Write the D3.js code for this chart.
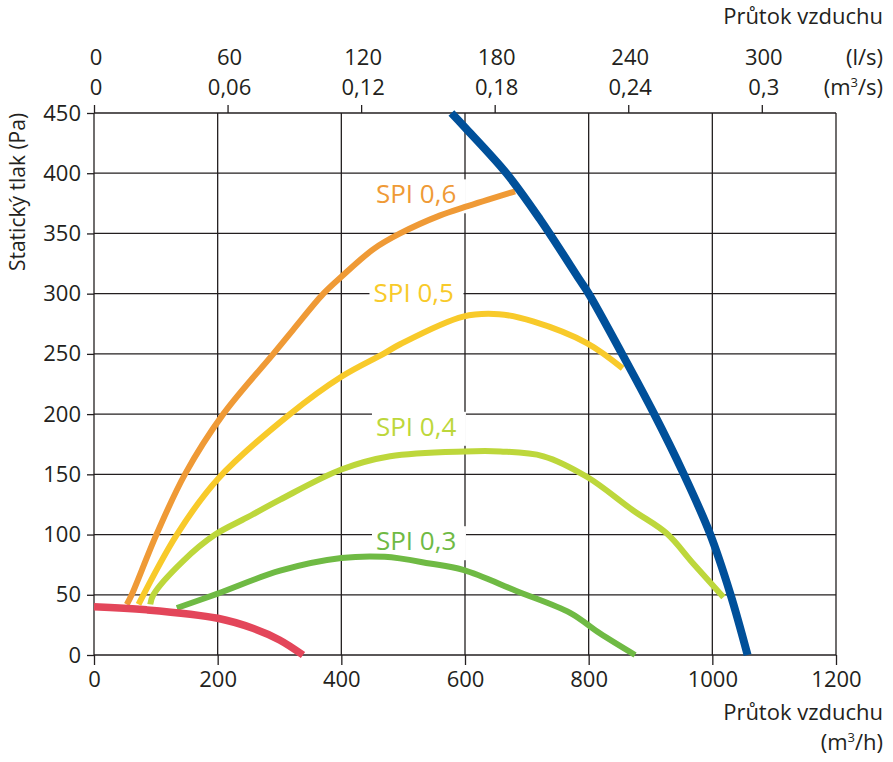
<!DOCTYPE html>
<html>
<head>
<meta charset="utf-8">
<script src="https://cdn.jsdelivr.net/npm/d3@7"></script>
<style>
  body { margin: 0; background: #fff; }
  svg text { font-family: "Open Sans", "Noto Sans", sans-serif; fill: #231f20; }
</style>
</head>
<body>
<svg id="chart" width="893" height="762"></svg>
<script>
// ---- data (m3/h, Pa) ----
var xTicks = [0, 200, 400, 600, 800, 1000, 1200];
var yTicks = [0, 50, 100, 150, 200, 250, 300, 350, 400, 450];
var lsTicks = [0, 60, 120, 180, 240, 300];
var m3sLabels = ['0', '0,06', '0,12', '0,18', '0,24', '0,3'];

var fanCurve = [[578, 450], [600, 438], [667, 400], [721, 362], [786, 311], [800, 300],
  [854, 250], [905, 201], [953, 151], [996, 101], [1029, 51], [1057, 0]];
var spi06 = [[53, 42], [61, 50], [101, 100], [147, 150], [209, 200], [290, 250], [322, 270],
  [371, 300], [400, 314], [452, 337], [495, 350], [560, 365], [600, 372], [681, 385]];
var spi05 = [[72, 42], [134, 100], [200, 146], [317, 200], [400, 231], [468, 250], [495, 258],
  [597, 281], [655, 283], [710, 277], [797, 259], [855, 238]];
var spi04 = [[91, 42], [96, 50], [144, 78], [196, 100], [247, 114], [301, 129], [400, 154],
  [479, 165], [600, 169], [657, 169], [727, 165], [797, 148], [872, 120], [926, 101], [969, 76], [1018, 48]];
var spi03 = [[134, 39], [200, 51], [301, 70], [400, 80.5], [470, 81.5], [543, 76], [597, 70.6],
  [684, 53], [770, 35], [818, 18], [875, 0]];
var minCurve = [[0, 40], [85, 37.5], [200, 30.5], [258, 22], [300, 12.5], [338, 0]];

var spiNames = ['SPI 0,6', 'SPI 0,5', 'SPI 0,4', 'SPI 0,3'];
var spiLabelPos = [[456, 375], [452, 293], [456, 182], [456, 87]]; // label baseline, m3/h & Pa

var colors = {
  fan: '#00509a',
  spi06: '#ef9a36',
  spi05: '#f8ca2a',
  spi04: '#bdd73b',
  spi03: '#6fba44',
  min: '#e3465a'
};

var plot = { left: 94, right: 836, top: 113, bottom: 655 };
var fs = 22;

var svg = d3.select('#chart');

var x = d3.scaleLinear().domain([0, 1200]).range([plot.left, plot.right]);
var xLs = d3.scaleLinear().domain([0, 1200 / 3.6]).range([plot.left, plot.right]);
var y = d3.scaleLinear().domain([0, 450]).range([plot.bottom, plot.top]);

// grid
var grid = svg.append('g').attr('stroke', '#231f20').attr('stroke-width', 1.3);
grid.selectAll('line.v')
  .data(xTicks)
  .enter().append('line')
  .attr('x1', d => x(d)).attr('x2', d => x(d))
  .attr('y1', plot.top).attr('y2', plot.bottom);
grid.selectAll('line.h')
  .data(yTicks)
  .enter().append('line')
  .attr('y1', d => y(d)).attr('y2', d => y(d))
  .attr('x1', plot.left).attr('x2', plot.right);

// bottom axis
var xAxis = svg.append('g')
  .attr('transform', 'translate(0,' + plot.bottom + ')')
  .call(d3.axisBottom(x).tickValues(xTicks).tickSize(10).tickSizeOuter(0).tickPadding(6)
    .tickFormat(d3.format('d')));
xAxis.select('.domain').remove();
xAxis.selectAll('text').attr('font-size', fs).attr('fill', '#231f20');
xAxis.selectAll('line').attr('stroke', '#231f20').attr('stroke-width', 1.3);

// left axis
var yAxis = svg.append('g')
  .attr('transform', 'translate(' + plot.left + ',0)')
  .call(d3.axisLeft(y).tickValues(yTicks).tickSize(7).tickSizeOuter(0).tickPadding(6));
yAxis.select('.domain').remove();
yAxis.selectAll('text').attr('font-size', fs).attr('fill', '#231f20');
yAxis.selectAll('line').attr('stroke', '#231f20').attr('stroke-width', 1.3);

// top axis (l/s and m3/s)
var topAxis = svg.append('g')
  .attr('transform', 'translate(0,' + plot.top + ')')
  .call(d3.axisTop(xLs).tickValues(lsTicks).tickSize(8).tickSizeOuter(0).tickFormat(''));
topAxis.select('.domain').remove();
topAxis.selectAll('line').attr('stroke', '#231f20').attr('stroke-width', 1.3);

svg.append('g').selectAll('text')
  .data(lsTicks)
  .enter().append('text')
  .attr('x', d => xLs(d) + 2)
  .attr('y', 65)
  .attr('text-anchor', 'middle')
  .attr('font-size', fs)
  .text(d => d);
svg.append('g').selectAll('text')
  .data(lsTicks)
  .enter().append('text')
  .attr('x', d => xLs(d) + 2)
  .attr('y', 95)
  .attr('text-anchor', 'middle')
  .attr('font-size', fs)
  .text((d, i) => m3sLabels[i]);

svg.append('text').attr('x', 883).attr('y', 65).attr('text-anchor', 'end')
  .attr('font-size', fs).text('(l/s)');
var m3s = svg.append('text').attr('x', 883).attr('y', 95).attr('text-anchor', 'end')
  .attr('font-size', fs);
m3s.append('tspan').text('(m');
m3s.append('tspan').attr('font-size', 13).attr('dy', -8).text('3');
m3s.append('tspan').attr('dy', 8).text('/s)');

svg.append('text').attr('x', 883).attr('y', 24).attr('text-anchor', 'end')
  .attr('font-size', fs).text('Průtok vzduchu');

// bottom titles
svg.append('text').attr('x', 883).attr('y', 720).attr('text-anchor', 'end')
  .attr('font-size', fs).text('Průtok vzduchu');
var m3h = svg.append('text').attr('x', 883).attr('y', 750).attr('text-anchor', 'end')
  .attr('font-size', fs);
m3h.append('tspan').text('(m');
m3h.append('tspan').attr('font-size', 13).attr('dy', -8).text('3');
m3h.append('tspan').attr('dy', 8).text('/h)');

// y title
svg.append('text')
  .attr('transform', 'translate(25,' + 192 + ') rotate(-90)')
  .attr('text-anchor', 'middle')
  .attr('font-size', 21)
  .text('Statický tlak (Pa)');

// curves
var line = d3.line()
  .x(d => x(d[0]))
  .y(d => y(d[1]))
  .curve(d3.curveCatmullRom.alpha(0.5));

var spiSeries = [spi06, spi05, spi04, spi03];
var spiColors = [colors.spi06, colors.spi05, colors.spi04, colors.spi03];

// labels with white boxes
var labels = svg.append('g');
spiNames.forEach(function (name, i) {
  var px = x(spiLabelPos[i][0]);
  var py = y(spiLabelPos[i][1]);
  labels.append('rect')
    .attr('x', px - 4).attr('y', py - 24)
    .attr('width', 94).attr('height', 34)
    .attr('fill', '#fff');
  labels.append('text')
    .attr('x', px).attr('y', py)
    .attr('font-size', 26)
    .style('fill', spiColors[i])
    .text(name);
});

var curves = svg.append('g').attr('fill', 'none');
curves.selectAll('path.spi')
  .data(spiSeries)
  .enter().append('path')
  .attr('class', 'spi')
  .attr('d', line)
  .attr('stroke', (d, i) => spiColors[i])
  .attr('stroke-width', 6);

curves.append('path')
  .datum(minCurve)
  .attr('d', line)
  .attr('stroke', colors.min)
  .attr('stroke-width', 7.5);

curves.append('path')
  .datum(fanCurve)
  .attr('d', line)
  .attr('stroke', colors.fan)
  .attr('stroke-width', 8);
</script>
</body>
</html>
